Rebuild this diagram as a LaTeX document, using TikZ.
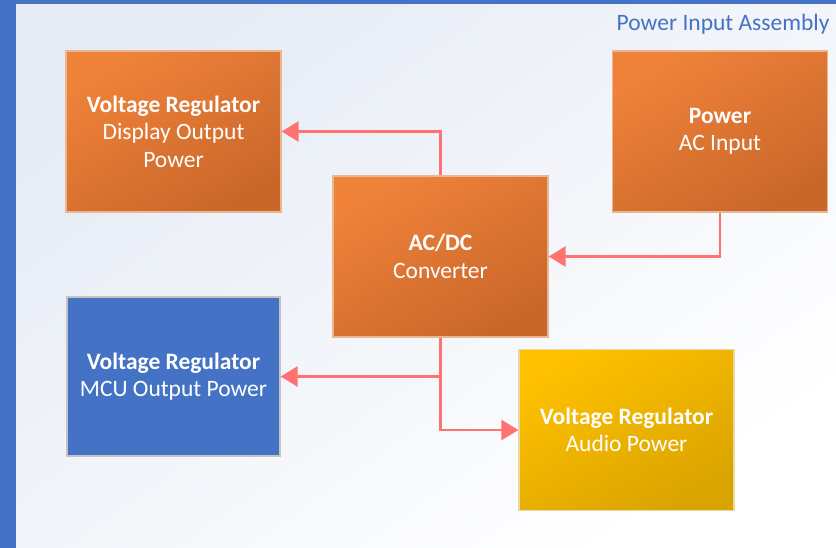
\documentclass[tikz,border=0pt]{standalone}
\usepackage{fontspec}
\setmainfont{Carlito}
\usetikzlibrary{arrows.meta,positioning,calc}

\definecolor{frameblue}{HTML}{4472C4}
\definecolor{bgtop}{HTML}{E6EBF5}
\definecolor{orangehi}{HTML}{F0823A}
\definecolor{orangelo}{HTML}{C9672A}
\definecolor{orangeline}{HTML}{E9B892}
\definecolor{goldhi}{HTML}{FFC000}
\definecolor{goldlo}{HTML}{DAA400}
\definecolor{goldline}{HTML}{E8D9A2}
\definecolor{grayline}{HTML}{C4C4C4}
\definecolor{linkred}{HTML}{FF7272}

\begin{document}
\begin{tikzpicture}[x=1pt,y=-1pt,font=\fontsize{23.5}{27.5}\selectfont,
 box/.style={align=center,text=white,minimum width=215pt,minimum height=161pt,inner sep=2pt},
 hot/.style={box,draw=orangeline,line width=1.3pt,shading=axis,top color=orangehi,middle color=orangelo!80!orangehi,bottom color=orangelo,shading angle=30},
 cool/.style={box,draw=grayline,line width=1.3pt,fill=frameblue,minimum width=213pt,minimum height=159pt},
 warm/.style={box,draw=goldline,line width=1.3pt,shading=axis,top color=goldhi,middle color=goldlo!80!goldhi,bottom color=goldlo,shading angle=30},
 link/.style={draw=linkred,line width=2.8pt,-{Triangle[length=17pt,width=20pt]}}]
\useasboundingbox (0,0) rectangle (836,548);
\fill[frameblue] (0,0) rectangle (836,548);
\shade[top color=bgtop,bottom color=white,shading angle=35] (16,5) rectangle (836,548);
\node[anchor=base east,text=frameblue] (title) at (833,30.5) {Power Input Assembly};
\node[hot] (disp) at (173.5,131.5) {\textbf{Voltage Regulator}\\Display Output\\Power};
\node[hot] (pwr) at (720,131.5) {\textbf{Power}\\AC Input};
\node[hot] (acdc) at (440.5,256.5) {\textbf{AC/DC}\\Converter};
\node[cool] (mcu) at (173.5,376.5) {\textbf{Voltage Regulator}\\MCU Output Power};
\node[warm] (audio) at (626.5,430) {\textbf{Voltage Regulator}\\Audio Power};
\draw[link] (acdc.north) |- (disp.east);
\draw[link] (pwr.south) |- (acdc.east);
\draw[link] (acdc.south) |- (mcu.east);
\draw[link] (acdc.south) |- (audio.west);
\end{tikzpicture}
\end{document}
